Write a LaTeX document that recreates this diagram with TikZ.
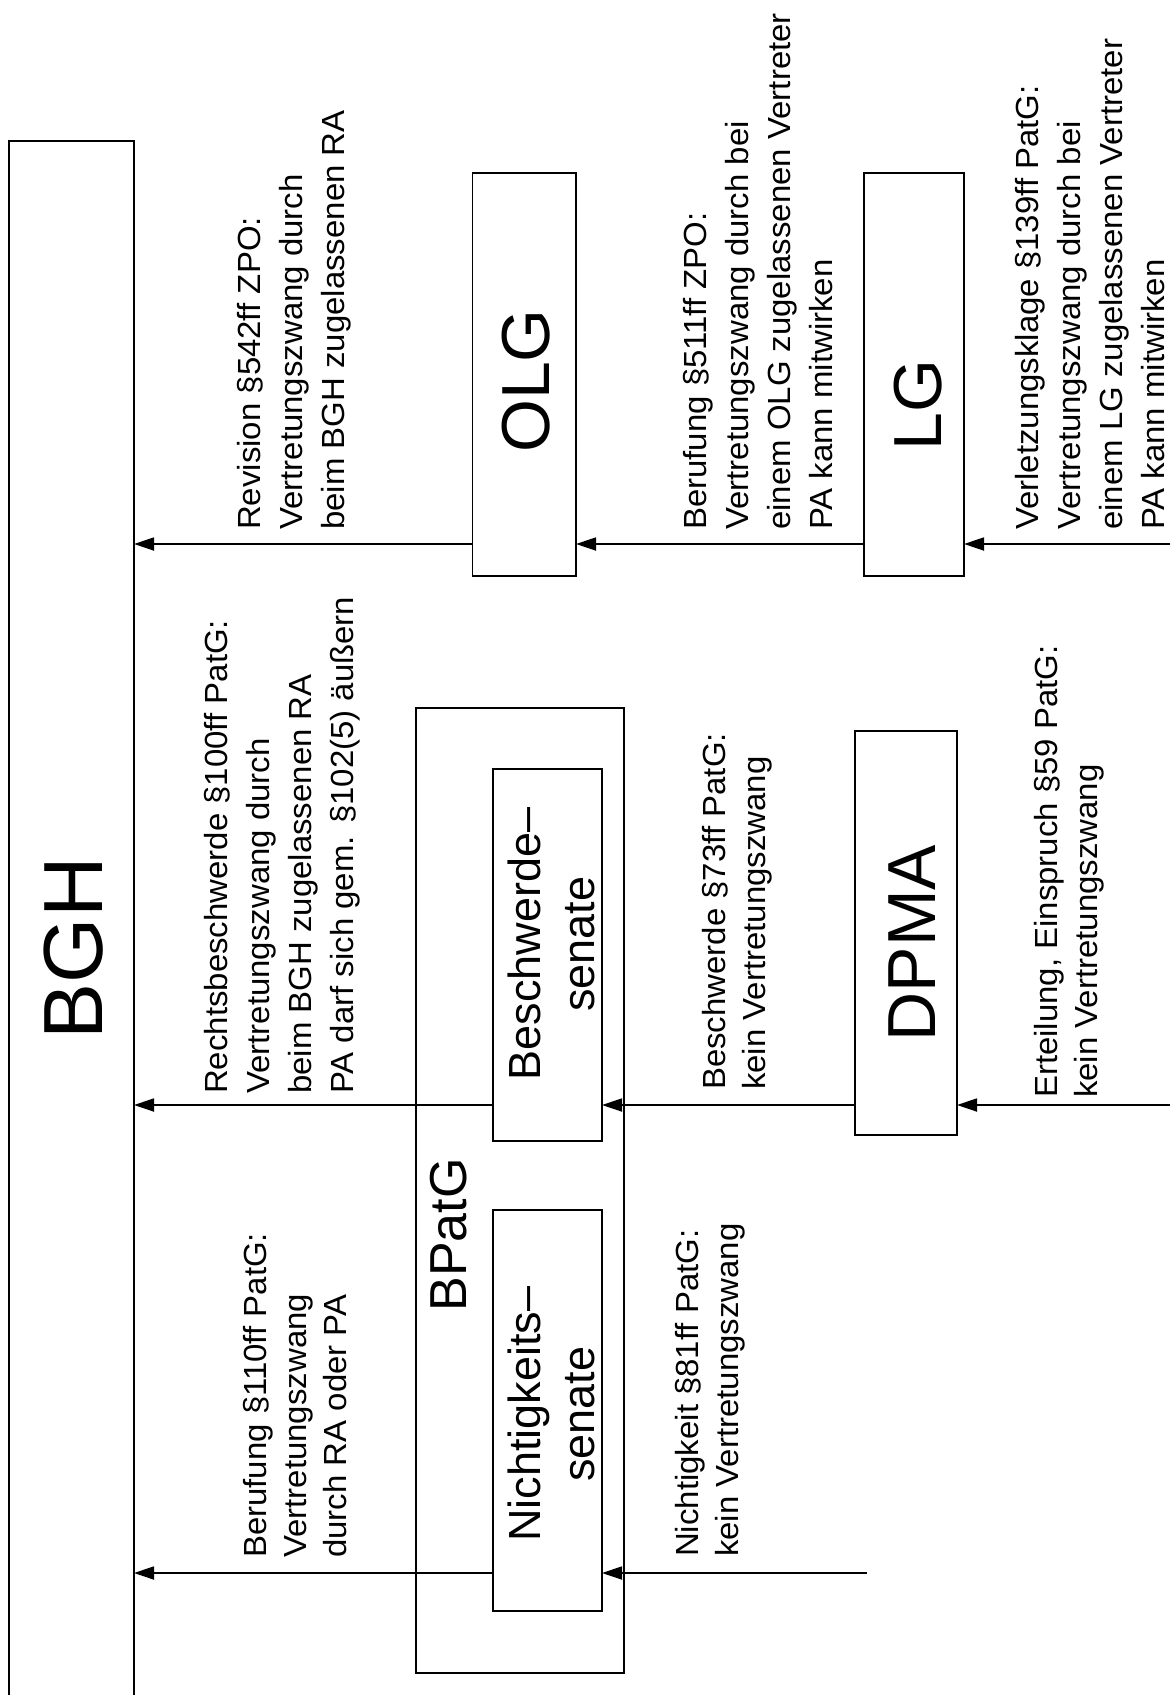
\documentclass[tikz,border=0pt]{standalone}
\usepackage{fontspec}
\setmainfont{Liberation Sans}
\newfontfamily\notefont[FakeStretch=1.03]{Liberation Sans}
\usetikzlibrary{arrows.meta}
\begin{document}
\begin{tikzpicture}[x=1pt,y=-1pt,
  box/.style={draw, line width=1.8pt, rectangle, inner sep=0pt, outer sep=0pt},
  conn/.style={line width=1.8pt, -{Triangle[length=20pt,width=13pt]}},
  note/.style={rotate=90, anchor=north west, inner sep=0pt, align=left, font=\notefont\fontsize{32}{42}\selectfont},
  shortnote/.style={note, font=\notefont\fontsize{32}{40}\selectfont},
  big/.style={rotate=90, inner sep=0pt, font=\fontsize{68}{80}\selectfont},
  senate/.style={rotate=90, inner sep=0pt, align=center, font=\fontsize{45}{54}\selectfont}]
\fill[white] (0,0) rectangle (1170,1695);
\clip (0,0) rectangle (1170,1695);

% boxes
\node[box, minimum width=125.3pt, minimum height=1579.4pt] (BGH) at (71.35,930.3) {};
\node[box, minimum width=103.5pt, minimum height=403pt] (OLG) at (524.25,374.5) {};
\node[box, minimum width=100pt, minimum height=403pt] (LG) at (914,374.5) {};
\node[box, minimum width=102pt, minimum height=404pt] (DPMA) at (906,933) {};
\node[box, minimum width=208pt, minimum height=965pt] (BPatG) at (520,1190.5) {};
\node[box, minimum width=109pt, minimum height=372pt] (Bs) at (547.5,955) {};
\node[box, minimum width=109pt, minimum height=401pt] (Ns) at (547.5,1410.5) {};

% box labels
\node[big, font=\fontsize{84}{96}\selectfont] (tBGH) at (74,948) {BGH};
\node[big] (tOLG) at (526,381) {OLG};
\node[big] (tLG) at (918,405) {LG};
\node[big] (tDPMA) at (912,943) {DPMA};
\node[big, font=\fontsize{52}{60}\selectfont] (tBPatG) at (449,1235) {BPatG};
\node[senate] (tBs) at (551,944) {Beschwerde--\\senate};
\node[senate] (tNs) at (551,1414) {Nichtigkeits--\\senate};

% connector rows
\coordinate (r1) at (0,544);
\coordinate (r2) at (0,1105);
\coordinate (r3) at (0,1573);
\coordinate (in1) at (1172,544);
\coordinate (in2) at (1172,1105);
\coordinate (in3) at (867,1573);

\draw[conn] (OLG.west |- r1) -- (BGH.east |- r1);
\draw[conn] (LG.west |- r1) -- (OLG.east |- r1);
\draw[conn] (in1) -- (LG.east |- r1);

\draw[conn] (Bs.west |- r2) -- (BGH.east |- r2);
\draw[conn] (DPMA.west |- r2) -- (Bs.east |- r2);
\draw[conn] (in2) -- (DPMA.east |- r2);

\draw[conn] (Ns.west |- r3) -- (BGH.east |- r3);
\draw[conn] (in3) -- (Ns.east |- r3);

% connector labels
\node[note] (lRev) at (237,530) {Revision §542ff ZPO:\\Vertretungszwang durch\\beim BGH zugelassenen RA};
\node[note] (lBer) at (683,530) {Berufung §511ff ZPO:\\Vertretungszwang durch bei\\einem OLG zugelassenen Vertreter\\PA kann mitwirken};
\node[note] (lVer) at (1015,530) {Verletzungsklage §139ff PatG:\\Vertretungszwang durch bei\\einem LG zugelassenen Vertreter\\PA kann mitwirken};
\node[note] (lRb) at (204,1094) {Rechtsbeschwerde §100ff PatG:\\Vertretungszwang durch\\beim BGH zugelassenen RA\\PA darf sich gem. §102(5) äußern};
\node[shortnote] (lBs) at (702,1090) {Beschwerde §73ff PatG:\\kein Vertretungszwang};
\node[shortnote] (lErt) at (1034,1098) {Erteilung, Einspruch §59 PatG:\\kein Vertretungszwang};
\node[shortnote] (lB110) at (243,1558) {Berufung §110ff PatG:\\Vertretungszwang\\durch RA oder PA};
\node[shortnote] (lNi) at (675,1557) {Nichtigkeit §81ff PatG:\\kein Vertretungszwang};
\end{tikzpicture}
\end{document}
